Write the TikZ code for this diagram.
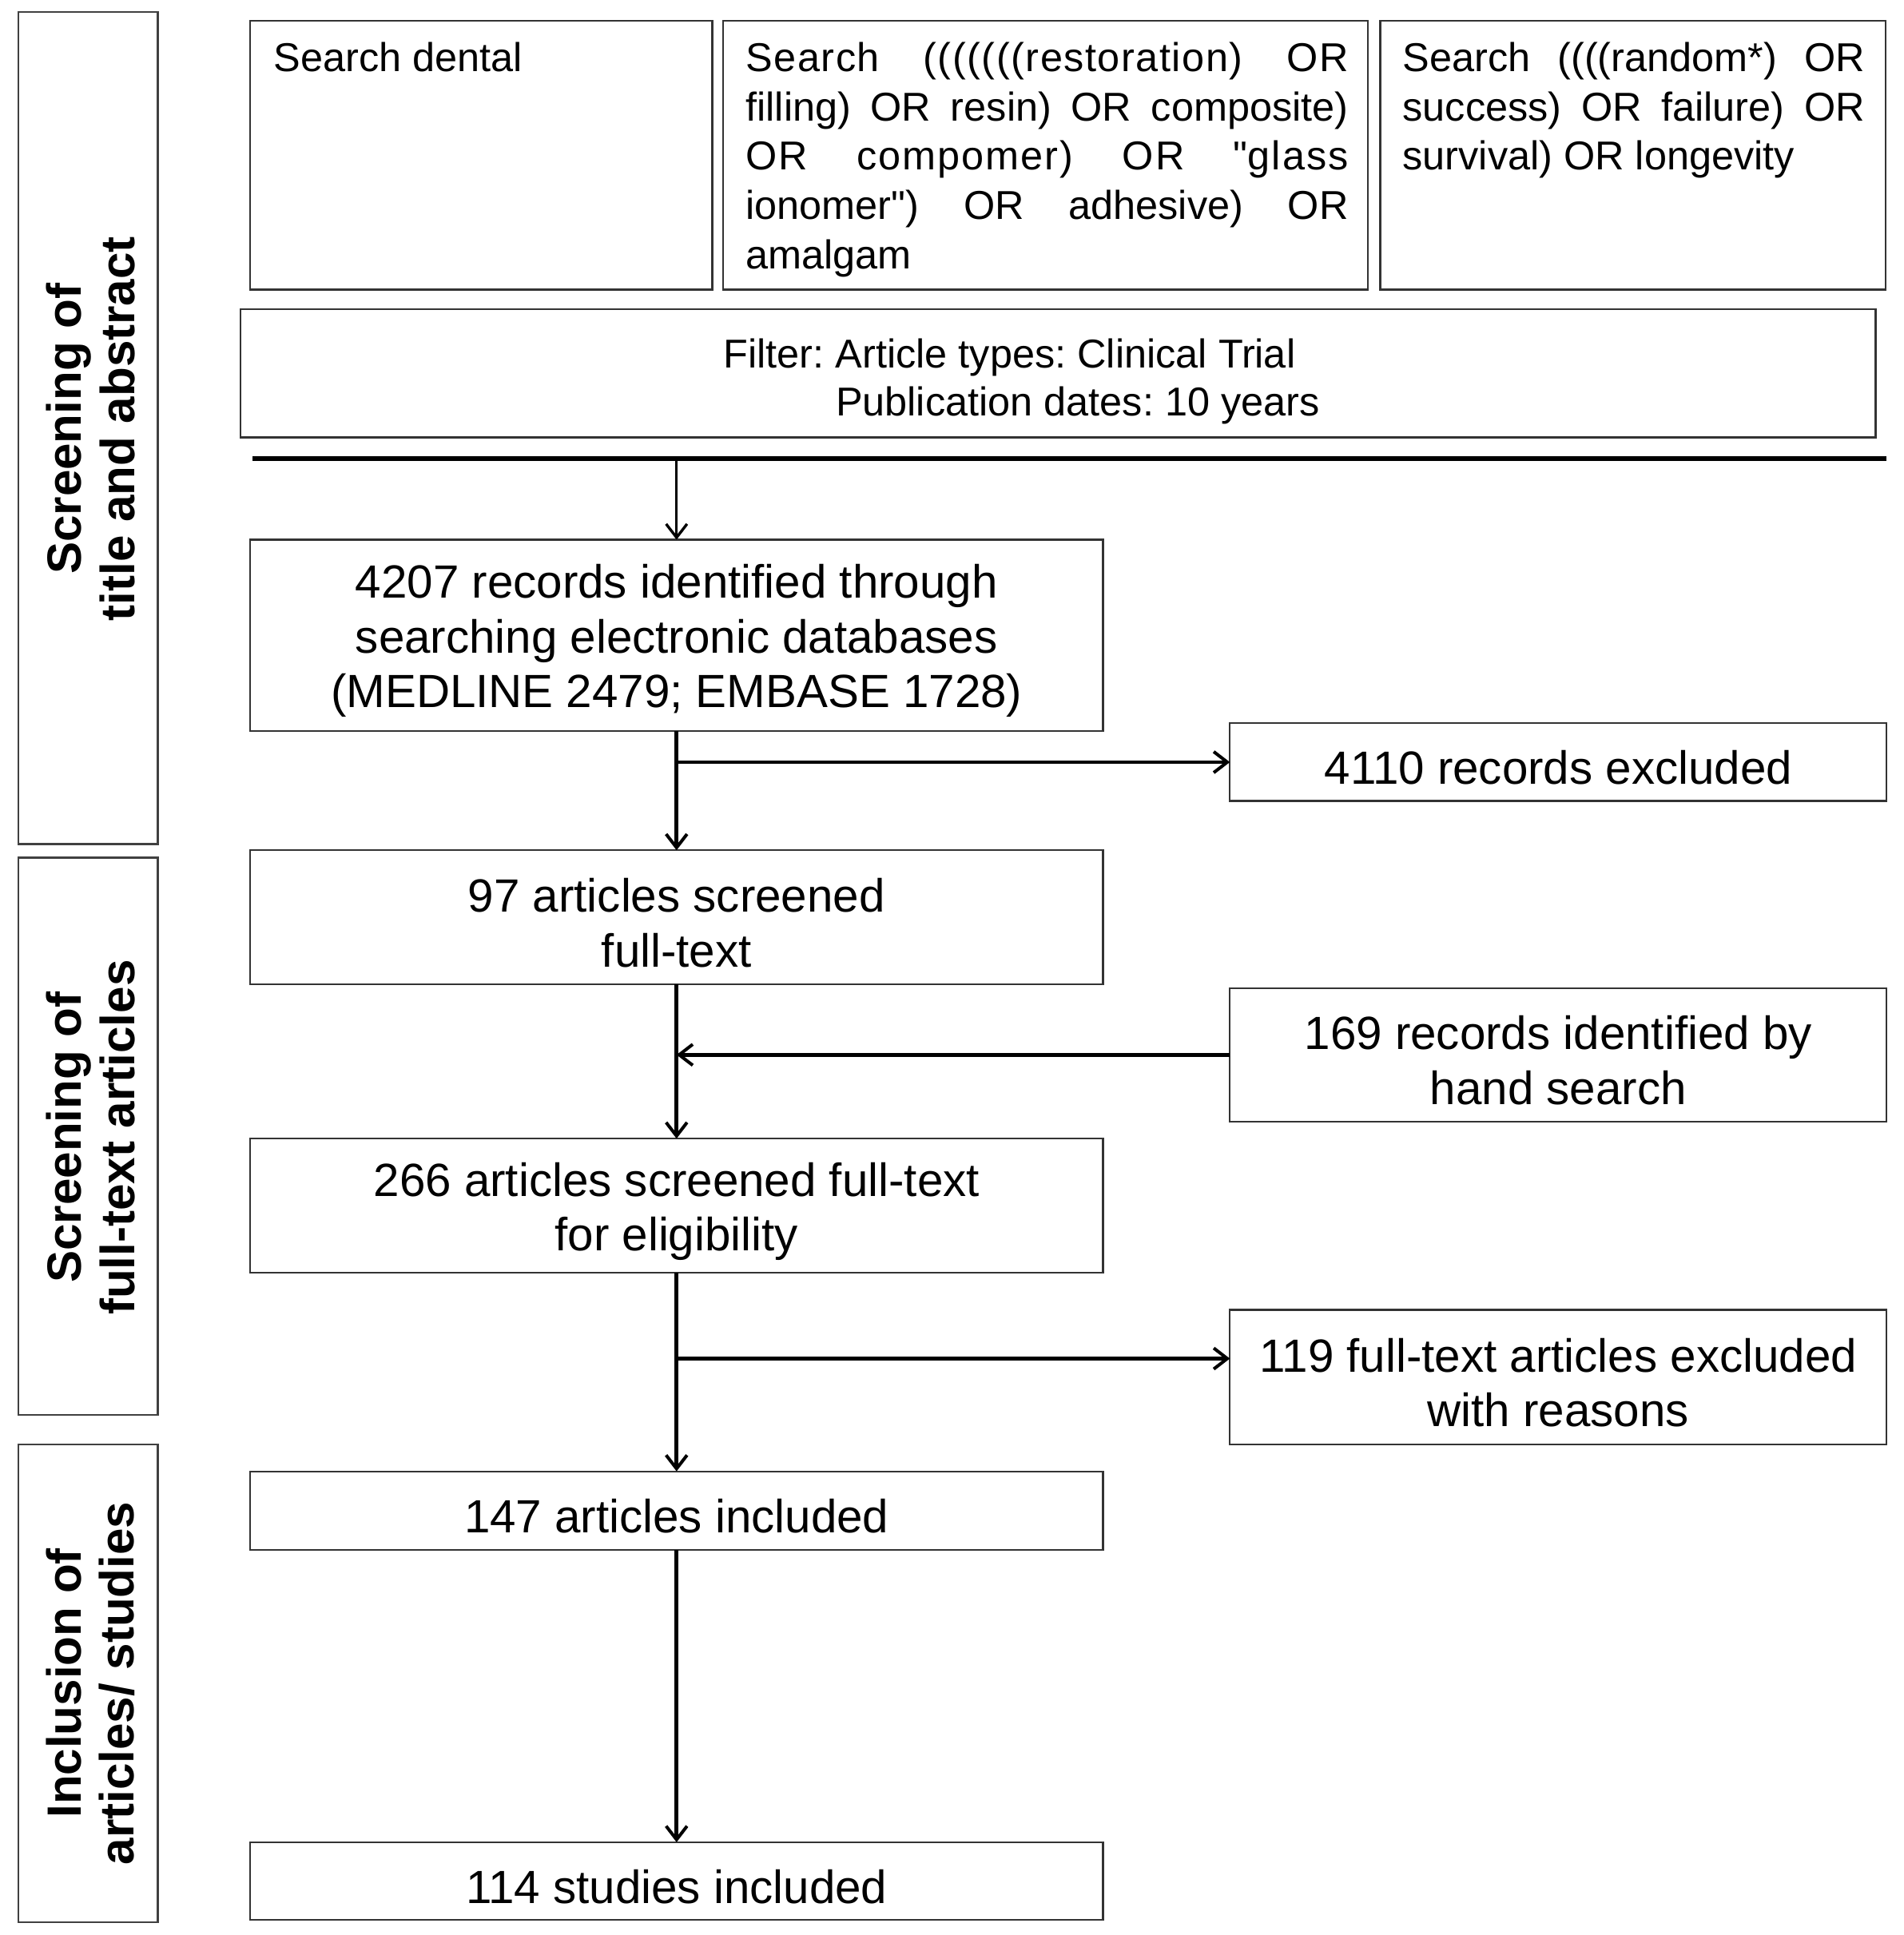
\documentclass[tikz,border=0pt]{standalone}
\usepackage{fontspec}
\setmainfont{Liberation Sans}
\usetikzlibrary{arrows.meta}
\frenchspacing
\newcommand{\topst}{\rule{0pt}{36.5pt}}
\begin{document}
\begin{tikzpicture}[x=1pt,y=-1pt,
  box/.style={draw=black!80, line width=1.4pt, inner sep=0pt, outer sep=0pt},
  sidebox/.style={draw=black!75, line width=1.4pt, inner sep=0pt, outer sep=0pt},
  smalltxt/.style={font=\fontsize{32.7}{40}\selectfont\frenchspacing, inner sep=0pt},
  flowtxt/.style={font=\fontsize{37.8}{44.5}\selectfont\frenchspacing, align=center},
  sidetxt/.style={font=\fontsize{39}{43}\selectfont\bfseries, align=center, rotate=90, inner sep=0pt},
  conn/.style={line width=3pt, -{Straight Barb[length=11pt,width=17pt,line width=2.6pt]}},
  thinconn/.style={line width=2pt, -{Straight Barb[length=11pt,width=17pt,line width=2.2pt]}}
]
\useasboundingbox (0,0) rectangle (1545,1570.3);
\fill[white] (0,0) rectangle (1545,1570.3);

% side panels
\node[sidebox, minimum width=113pt, minimum height=675pt] (pa) at (71.5,347.5) {};
\node[sidebox, minimum width=113pt, minimum height=452pt] (pb) at (71.5,922) {};
\node[sidebox, minimum width=113pt, minimum height=388pt] (pc) at (71.5,1366) {};
\node[sidetxt] (pat) at (73.5,348) {Screening of\\title and abstract};
\node[sidetxt] (pbt) at (73.5,923) {Screening of\\full-text articles};
\node[sidetxt] (pct) at (73.5,1366) {Inclusion of\\articles/ studies};

% search boxes
\node[box, minimum width=375pt, minimum height=218pt] (s1) at (390.5,126) {};
\node[box, minimum width=523pt, minimum height=218pt] (s2) at (848.5,126) {};
\node[box, minimum width=410pt, minimum height=218pt] (s3) at (1325,126) {};
\node[smalltxt, anchor=base west] (s1t) at (222,58) {Search dental};
\node[smalltxt, anchor=base west, text width=489pt, align=justify] (s2t) at (605,58)
  {\tolerance=9999 {\addfontfeature{LetterSpace=3}Search (((((((restoration) OR}\linebreak filling) OR resin) OR composite)\linebreak {\addfontfeature{LetterSpace=4}OR compomer) OR \textquotedbl glass}\linebreak ionomer\textquotedbl) OR adhesive) OR\linebreak amalgam};
\node[smalltxt, anchor=base west, text width=375pt, align=justify] (s3t) at (1138,58)
  {\tolerance=9999 Search ((((random*) OR\linebreak success) OR failure) OR\linebreak survival) OR longevity};

% filter
\node[box, minimum width=1327pt, minimum height=104pt] (filt) at (858.5,303) {};
\node[smalltxt, font=\fontsize{32.7}{39}\selectfont\frenchspacing, anchor=base west, align=left] (filtt) at (587,337.5)
  {Filter: Article types: Clinical Trial\\\hspace*{91pt}Publication dates: 10 years};

% bar
\coordinate (barL) at (205,372);
\coordinate (barR) at (1531,372);
\draw[line width=4pt] (barL) -- (barR);

% flow boxes
\node[box, minimum width=692pt, minimum height=155pt, flowtxt] (r1) at (549,515.5)
  {\topst 4207 records identified through\\searching electronic databases\\(MEDLINE 2479; EMBASE 1728)};
\node[box, minimum width=533pt, minimum height=63pt, flowtxt] (x1) at (1264.5,618.5)
  {\topst 4110 records excluded};
\node[box, minimum width=692pt, minimum height=109pt, flowtxt] (r2) at (549,744.5)
  {\topst 97 articles screened\\full-text};
\node[box, minimum width=533pt, minimum height=108pt, flowtxt] (x2) at (1264.5,856)
  {\topst 169 records identified by\\hand search};
\node[box, minimum width=692pt, minimum height=109pt, flowtxt] (r3) at (549,978.5)
  {\topst 266 articles screened full-text\\for eligibility};
\node[box, minimum width=533pt, minimum height=109pt, flowtxt] (x3) at (1264.5,1117.5)
  {\topst 119 full-text articles excluded\\with reasons};
\node[box, minimum width=692pt, minimum height=64pt, flowtxt] (r4) at (549,1226)
  {\topst 147 articles included};
\node[box, minimum width=692pt, minimum height=63pt, flowtxt] (r5) at (549,1526.5)
  {\topst 114 studies included};

% connectors
\coordinate (x3in) at ([yshift=15pt]x3.west);
\draw[thinconn] (barL -| r1.north) -- (r1.north);
\draw[conn] (r1.south) -- (r2.north);
\draw[conn] (r1.south |- x1.west) -- (x1.west);
\draw[conn] (r2.south) -- (r3.north);
\draw[conn] (x2.west) -- (x2.west -| r2.south);
\draw[conn] (r3.south) -- (r4.north);
\draw[conn] (r3.south |- x3in) -- (x3in);
\draw[conn] (r4.south) -- (r5.north);
\end{tikzpicture}
\end{document}
